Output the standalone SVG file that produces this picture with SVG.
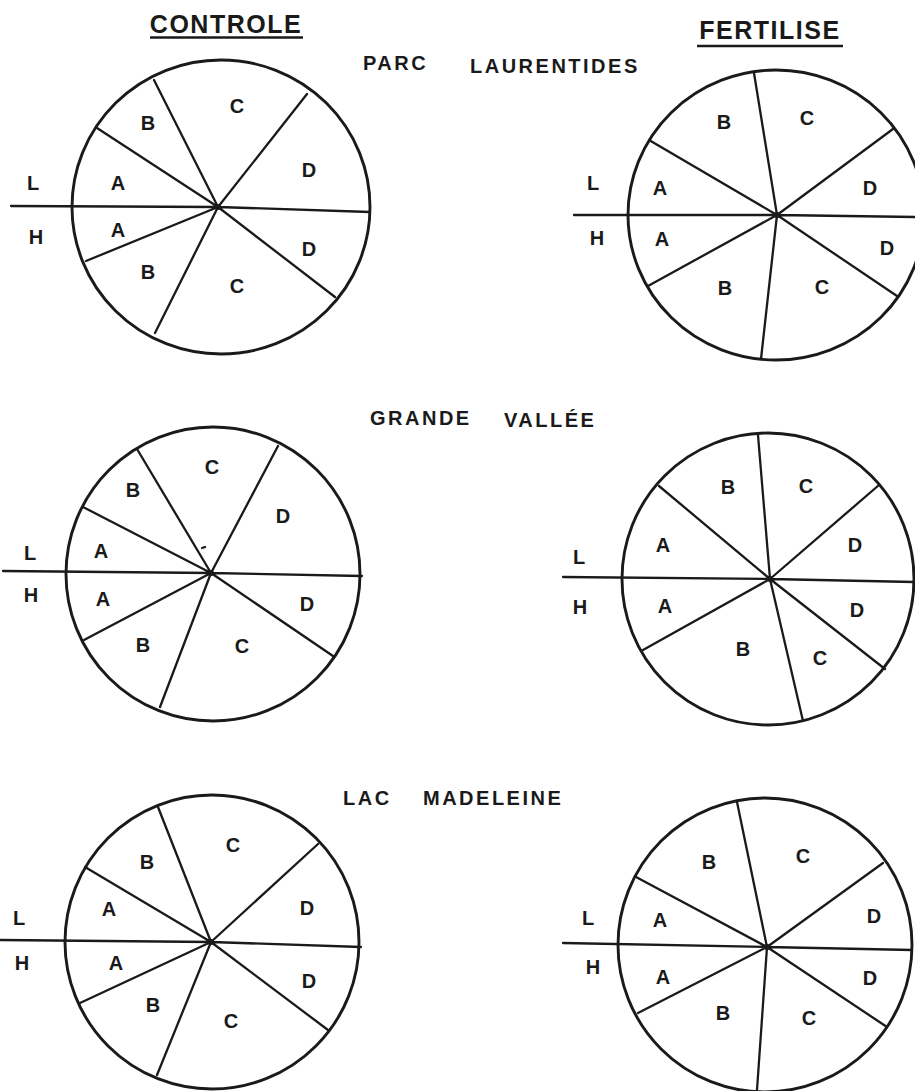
<svg xmlns="http://www.w3.org/2000/svg" width="915" height="1091" viewBox="0 0 915 1091">
<style>
.c{fill:none;stroke:#1a1a1a;stroke-width:2.9}
.s{stroke:#1a1a1a;stroke-width:2.3;fill:none;stroke-linecap:round}
.l{font-family:"Liberation Sans",Arial,sans-serif;font-weight:bold;font-size:20px;fill:#1a1a1a;text-anchor:middle;dominant-baseline:central}
.t{font-family:"Liberation Sans",Arial,sans-serif;font-weight:bold;font-size:25px;fill:#1a1a1a;text-anchor:middle;letter-spacing:1.5px}
.h{font-family:"Liberation Sans",Arial,sans-serif;font-weight:bold;font-size:20px;fill:#1a1a1a;letter-spacing:2.5px}
</style>
<rect width="915" height="1091" fill="#fff"/>
<g id="titles">
<text class="t" x="226" y="33">CONTROLE</text>
<line x1="150" y1="37.5" x2="303" y2="37.5" stroke="#1a1a1a" stroke-width="2.5"/>
<text class="t" x="770" y="39">FERTILISE</text>
<line x1="697" y1="46" x2="843" y2="46" stroke="#1a1a1a" stroke-width="2.5"/>
<text class="h" x="363" y="70">PARC</text>
<text class="h" x="470" y="73">LAURENTIDES</text>
<text class="h" x="370" y="425">GRANDE</text>
<text class="h" x="504" y="427">VALLÉE</text>
<text class="h" x="343" y="805">LAC</text>
<text class="h" x="423" y="805">MADELEINE</text>
</g>
<g id="connectors">
<path class="s" d="M11 206 L218 207 L370 212 M218 207 L154 80 M218 207 L97 128 M218 207 L307 94 M218 207 L86 261 M218 207 L155 333 M218 207 L335 297"/>
<path class="s" d="M574 215 L777 215 L915 217 M777 215 L754 73 M777 215 L649 140 M777 215 L893 129 M777 215 L648 286 M777 215 L761 359 M777 215 L897 296"/>
<path class="s" d="M3 571 L211 573 L362 576 M211 573 L137 449 M211 573 L83 507 M211 573 L278 446 M211 573 L84 640 M211 573 L160 707 M211 573 L333 656 M202 548 L205 547"/>
<path class="s" d="M563 577 L770 579 L914 582 M770 579 L758 435 M770 579 L659 486 M770 579 L879 485 M770 579 L643 650 M770 579 L803 721 M770 579 L885 669"/>
<path class="s" d="M0 940 L211 942 L361 947 M211 942 L158 807 M211 942 L85 867 M211 942 L318 844 M211 942 L80 1003 M211 942 L157 1075 M211 942 L328 1030"/>
<path class="s" d="M563 943 L767 947 L912 950 M767 947 L737 802 M767 947 L636 877 M767 947 L883 863 M767 947 L638 1013 M767 947 L757 1090 M767 947 L887 1027"/>
</g>
<g id="pl-controle">
<ellipse class="c" cx="221" cy="207" rx="149" ry="147" stroke-width="3.4"/>
<circle cx="218" cy="207" r="3" fill="#1a1a1a"/>
<text class="l" x="33" y="183">L</text><text class="l" x="36" y="237">H</text>
<text class="l" x="148" y="123">B</text><text class="l" x="237" y="106">C</text><text class="l" x="309" y="170">D</text><text class="l" x="118" y="183">A</text>
<text class="l" x="118" y="230">A</text><text class="l" x="148" y="272">B</text><text class="l" x="237" y="286">C</text><text class="l" x="309" y="249">D</text>
</g>
<g id="pl-fertilise">
<ellipse class="c" cx="776" cy="215" rx="148" ry="145"/>
<circle cx="777" cy="215" r="3" fill="#1a1a1a"/>
<text class="l" x="593" y="183">L</text><text class="l" x="597" y="238">H</text>
<text class="l" x="724" y="122">B</text><text class="l" x="807" y="118">C</text><text class="l" x="870" y="188">D</text><text class="l" x="660" y="188">A</text>
<text class="l" x="662" y="239">A</text><text class="l" x="725" y="288">B</text><text class="l" x="822" y="287">C</text><text class="l" x="887" y="248">D</text>
</g>
<g id="gv-controle">
<circle class="c" cx="213" cy="574" r="147"/>
<circle cx="211" cy="573" r="3" fill="#1a1a1a"/>
<text class="l" x="30" y="553">L</text><text class="l" x="31" y="595">H</text>
<text class="l" x="133" y="490">B</text><text class="l" x="212" y="467">C</text><text class="l" x="283" y="516">D</text><text class="l" x="101" y="551">A</text>
<text class="l" x="103" y="599">A</text><text class="l" x="143" y="645">B</text><text class="l" x="242" y="646">C</text><text class="l" x="307" y="604">D</text>
</g>
<g id="gv-fertilise">
<circle class="c" cx="768" cy="579" r="146"/>
<circle cx="770" cy="579" r="3" fill="#1a1a1a"/>
<text class="l" x="579" y="557">L</text><text class="l" x="580" y="607">H</text>
<text class="l" x="728" y="487">B</text><text class="l" x="806" y="486">C</text><text class="l" x="855" y="545">D</text><text class="l" x="663" y="545">A</text>
<text class="l" x="665" y="606">A</text><text class="l" x="743" y="649">B</text><text class="l" x="820" y="658">C</text><text class="l" x="857" y="610">D</text>
</g>
<g id="lm-controle">
<circle class="c" cx="212" cy="942" r="147"/>
<circle cx="211" cy="942" r="3" fill="#1a1a1a"/>
<text class="l" x="19" y="918">L</text><text class="l" x="22" y="963">H</text>
<text class="l" x="147" y="862">B</text><text class="l" x="233" y="845">C</text><text class="l" x="307" y="908">D</text><text class="l" x="109" y="909">A</text>
<text class="l" x="116" y="963">A</text><text class="l" x="153" y="1005">B</text><text class="l" x="231" y="1021">C</text><text class="l" x="309" y="981">D</text>
</g>
<g id="lm-fertilise">
<circle class="c" cx="765" cy="945" r="147" stroke-width="3.2"/>
<circle cx="767" cy="947" r="3" fill="#1a1a1a"/>
<text class="l" x="588" y="918">L</text><text class="l" x="593" y="967">H</text>
<text class="l" x="709" y="862">B</text><text class="l" x="803" y="856">C</text><text class="l" x="874" y="916">D</text><text class="l" x="660" y="920">A</text>
<text class="l" x="663" y="977">A</text><text class="l" x="723" y="1013">B</text><text class="l" x="809" y="1018">C</text><text class="l" x="870" y="978">D</text>
</g>
</svg>
